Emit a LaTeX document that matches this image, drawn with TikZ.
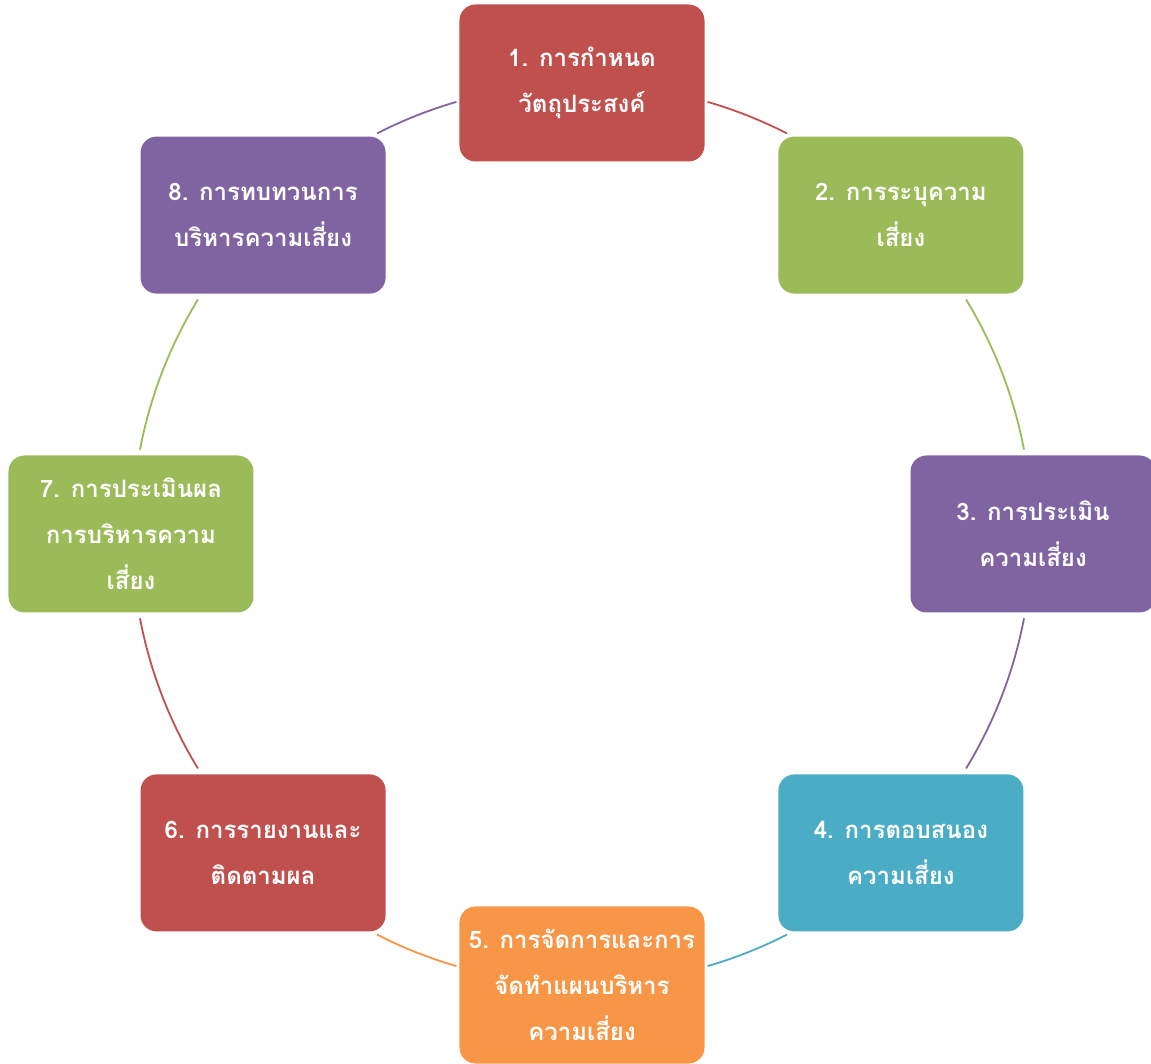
\documentclass[tikz,border=0pt]{standalone}
\usepackage{fontspec}
\newfontfamily\thaifont[Script=Thai]{Loma}
\definecolor{cred}{HTML}{C0504D}
\definecolor{cgreen}{HTML}{9BBB59}
\definecolor{cpurple}{HTML}{8064A2}
\definecolor{cteal}{HTML}{4BACC6}
\definecolor{corange}{HTML}{F79646}
\tikzset{
  stepbox/.style={rectangle, rounded corners=16pt, minimum width=245pt, minimum height=157pt,
    inner sep=0pt, fill=#1, draw=none, text=white, align=center,
    font=\thaifont\bfseries\fontsize{24}{46}\selectfont},
  link/.style={draw=#1, line width=1.8pt}
}
\begin{document}
\begin{tikzpicture}[x=1pt,y=1pt]
\useasboundingbox (-582,-530) rectangle (569,534);
\node[stepbox=cred]    (b1) at (90:451)   {1. การกำหนด\\วัตถุประสงค์};
\node[stepbox=cgreen]  (b2) at (45:451)   {2. การระบุความ\\เสี่ยง};
\node[stepbox=cpurple] (b3) at (0:451)    {3. การประเมิน\\ความเสี่ยง};
\node[stepbox=cteal]   (b4) at (-45:451)  {4. การตอบสนอง\\ความเสี่ยง};
\node[stepbox=corange] (b5) at (-90:451)  {5. การจัดการและการ\\จัดทำแผนบริหาร\\ความเสี่ยง};
\node[stepbox=cred]    (b6) at (-135:451) {6. การรายงานและ\\ติดตามผล};
\node[stepbox=cgreen]  (b7) at (180:451)  {7. การประเมินผล\\การบริหารความ\\เสี่ยง};
\node[stepbox=cpurple] (b8) at (135:451)  {8. การทบทวนการ\\บริหารความเสี่ยง};
\coordinate (s12) at (73.8:450);
\coordinate (s23) at (31.4:450);
\coordinate (s34) at (-10.8:450);
\coordinate (s45) at (-62.9:450);
\coordinate (s56) at (-106.2:450);
\coordinate (s67) at (-148.6:450);
\coordinate (s78) at (169.2:450);
\coordinate (s81) at (117.1:450);
\draw[link=cred]    (s12) arc[start angle=73.8, end angle=62.9, radius=450pt];
\draw[link=cgreen]  (s23) arc[start angle=31.4, end angle=10.8, radius=450pt];
\draw[link=cpurple] (s34) arc[start angle=-10.8, end angle=-31.4, radius=450pt];
\draw[link=cteal]   (s45) arc[start angle=-62.9, end angle=-73.8, radius=450pt];
\draw[link=corange] (s56) arc[start angle=-106.2, end angle=-117.1, radius=450pt];
\draw[link=cred]    (s67) arc[start angle=-148.6, end angle=-169.2, radius=450pt];
\draw[link=cgreen]  (s78) arc[start angle=169.2, end angle=148.6, radius=450pt];
\draw[link=cpurple] (s81) arc[start angle=117.1, end angle=106.2, radius=450pt];
\end{tikzpicture}
\end{document}
